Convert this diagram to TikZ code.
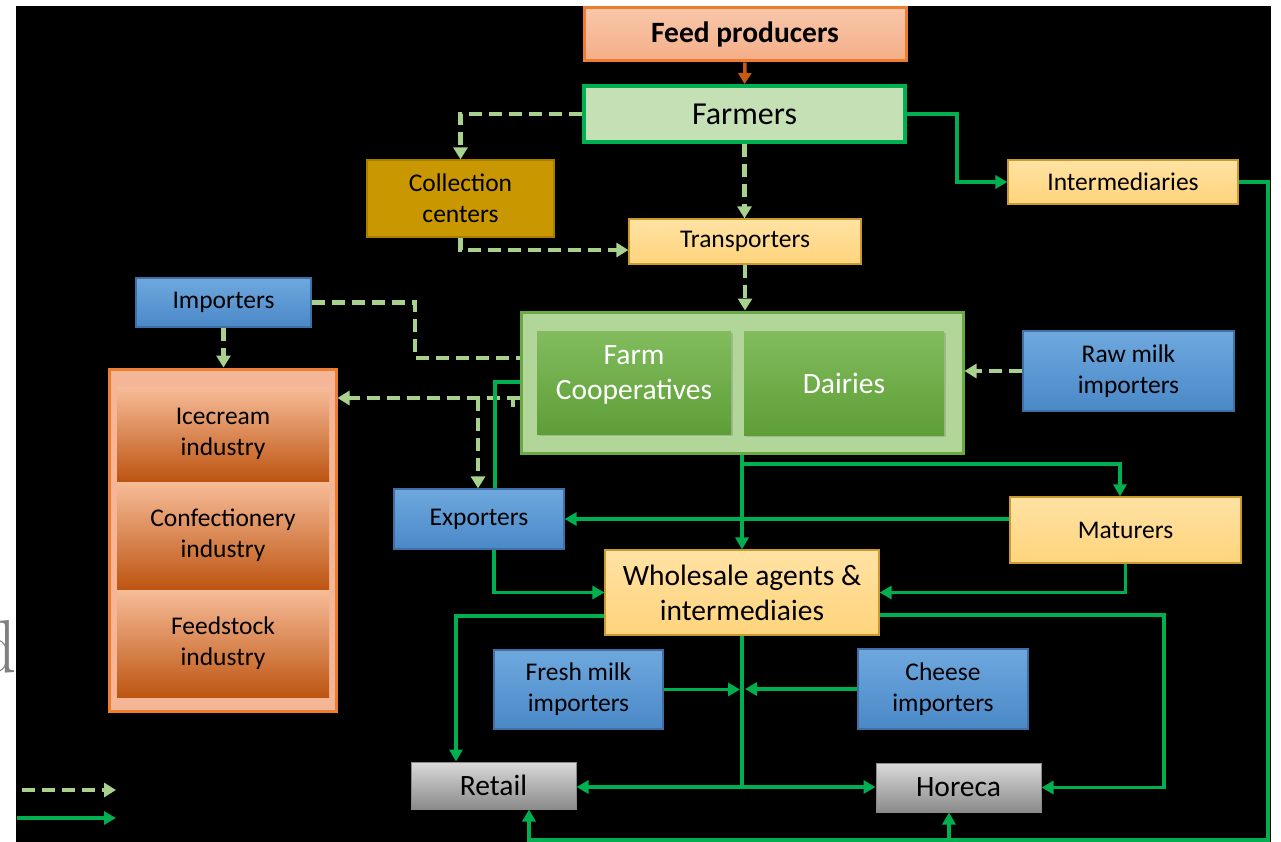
\documentclass[tikz,border=0pt]{standalone}
\usepackage{fontspec}
\newfontfamily\carl{Carlito}
\usetikzlibrary{arrows.meta,shadows}

% text sizes (1pt = one unit of the drawing grid)
\newcommand\fstd{\carl\fontsize{25.5}{31}\selectfont}
\newcommand\fbig{\carl\fontsize{29.5}{35}\selectfont}
\newcommand\ffarm{\carl\fontsize{32}{38}\selectfont}

\definecolor{dashgreen}{HTML}{A9D18E}
\definecolor{linegreen}{HTML}{00B050}
\definecolor{feedarrow}{HTML}{C55A11}
\definecolor{blueT}{HTML}{6EA8DE}
\definecolor{blueB}{HTML}{4A88C7}
\definecolor{blueD}{HTML}{3E70A6}
\definecolor{tanT}{HTML}{FFE2A3}
\definecolor{tanB}{HTML}{FFD47C}
\definecolor{tanD}{HTML}{C99A30}
\definecolor{gold}{HTML}{C99700}
\definecolor{goldD}{HTML}{A87E00}
\definecolor{farmfill}{HTML}{C5E0B4}
\definecolor{orangeD}{HTML}{ED7D31}
\definecolor{salmonT}{HTML}{F8C7AA}
\definecolor{salmonB}{HTML}{F4AE88}
\definecolor{grpfill}{HTML}{B2D69A}
\definecolor{grpdraw}{HTML}{6AAA45}
\definecolor{procT}{HTML}{82BC5E}
\definecolor{procB}{HTML}{5E9E36}
\definecolor{indfill}{HTML}{F5B597}
\definecolor{subT}{HTML}{F7BC98}
\definecolor{subM}{HTML}{E9792F}
\definecolor{subB}{HTML}{BD5512}
\definecolor{greyT}{HTML}{DADADA}
\definecolor{greyB}{HTML}{8A8A8A}

\begin{document}
\begin{tikzpicture}[x=1pt,y=-1pt,
  box/.style={rectangle, inner sep=0pt, align=center, font=\fstd, text=black},
  bluebox/.style={box, top color=blueT, bottom color=blueB, draw=blueD, line width=1.2pt},
  tanbox/.style={box, top color=tanT, bottom color=tanB, draw=tanD, line width=1.2pt},
  goldbox/.style={box, fill=gold, draw=goldD, line width=1.2pt},
  farmbox/.style={box, fill=farmfill, draw=linegreen, line width=4pt},
  feedbox/.style={box, top color=salmonT, bottom color=salmonB, draw=orangeD, line width=3pt},
  groupbox/.style={box, fill=grpfill, draw=grpdraw, line width=3pt},
  procbox/.style={box, top color=procT, bottom color=procB, text=white, font=\fbig,
    drop shadow={shadow xshift=2pt, shadow yshift=-2pt, opacity=0.35}},
  indbox/.style={box, fill=indfill, draw=orangeD, line width=3pt},
  subbox/.style={box, top color=subT, middle color=subM, bottom color=subB},
  greybox/.style={box, top color=greyT, bottom color=greyB, draw=greyB, line width=1pt, font=\fbig},
  sol/.style={draw=linegreen, line width=3.5pt, line join=miter},
  solarr/.style={sol, -{Triangle[length=12pt,width=13pt]}},
  dsh/.style={draw=dashgreen, line width=4.5pt, dash pattern=on 13pt off 7pt, line join=miter},
  dsharr/.style={dsh, -{Triangle[length=12pt,width=14pt]}},
  feedarr/.style={draw=feedarrow, line width=3.5pt, -{Triangle[length=11pt,width=13pt]}}
]
\useasboundingbox (0,0) rectangle (1281,842);
\fill[black] (16,6) rectangle (1271,842);
\node[font=\fontsize{75}{75}\selectfont, text=black!50, anchor=base east, inner sep=0pt] (frag) at (17,672) {d};

% ---- nodes ----
\node[feedbox, minimum width=322pt, minimum height=53pt, font=\fbig\bfseries] (feed) at (745,34.5) {Feed producers};
\node[farmbox, minimum width=321pt, minimum height=56pt, font=\ffarm] (farmers) at (744.5,114) {Farmers};
\node[goldbox, minimum width=187pt, minimum height=77pt] (coll) at (460.5,198.5) {Collection\\centers};
\node[tanbox, minimum width=230pt, minimum height=44pt] (inter) at (1123,182) {Intermediaries};
\node[tanbox, minimum width=232pt, minimum height=45pt] (trans) at (745,241.5) {Transporters};

\node[groupbox, minimum width=442pt, minimum height=141pt] (group) at (742,382.5) {};
\node[procbox, minimum width=194pt, minimum height=103pt, text depth=20pt] (coop) at (634,382.5) {Farm\\Cooperatives};
\node[procbox, minimum width=200pt, minimum height=104pt] (dairies) at (844,383) {Dairies};
\node[bluebox, minimum width=211pt, minimum height=80pt] (rawmilk) at (1128.5,371) {Raw milk\\importers};

\node[bluebox, minimum width=175pt, minimum height=49pt] (importers) at (223.5,302.5) {Importers};
\node[indbox, minimum width=227pt, minimum height=342pt] (industry) at (222.5,540) {};
\node[subbox, minimum width=212pt, minimum height=94pt] (ice) at (223,434) {Icecream\\industry};
\node[subbox, minimum width=212pt, minimum height=107pt] (conf) at (223,535.5) {Confectionery\\industry};
\node[subbox, minimum width=212pt, minimum height=107pt] (fstock) at (223,643.5) {Feedstock\\industry};

\node[bluebox, minimum width=170pt, minimum height=60pt] (exporters) at (479,519) {Exporters};
\node[tanbox, minimum width=231pt, minimum height=66pt] (maturers) at (1125.5,530) {Maturers};
\node[tanbox, minimum width=274pt, minimum height=85pt, font=\fbig] (wholesale) at (742,592.5) {Wholesale agents \&\\intermediaies};
\node[bluebox, minimum width=169pt, minimum height=79pt] (fresh) at (578.5,689.5) {Fresh milk\\importers};
\node[bluebox, minimum width=170pt, minimum height=80pt] (cheese) at (943,689) {Cheese\\importers};
\node[greybox, minimum width=165pt, minimum height=47pt] (retail) at (493.5,785.5) {Retail};
\node[greybox, minimum width=165pt, minimum height=49pt] (horeca) at (958.5,787.5) {Horeca};

% ---- milk collection (dashed) ----
\draw[feedarr] (feed.south) -- (farmers.north);
\draw[dsharr] (farmers.west) -| (coll.north);
\draw[dsharr] (farmers.south) -- (farmers.south |- trans.north);
\draw[dsharr] (coll.south) |- (trans.west |- 0,250);
\draw[dsharr] (trans.south) -- (trans.south |- group.north);
\draw[dsharr] (rawmilk.west) -- (rawmilk.west -| group.east);
\draw[dsh] (importers.east) -| (415,330) |- (group.west |- 0,358);
\draw[dsharr] (importers.south) -- (importers.south |- industry.north);
\draw[dsharr] (group.west |- 0,398) -- (industry.east |- 0,398);
\draw[dsharr] (478,398) -- (478,0 |- exporters.north);
\draw[dsh] (513,398) -- (513,407);

% ---- product flows (solid) ----
\draw[solarr] (farmers.east) -| (957,150) |- (inter.west);
\coordinate (loopNE) at (1268,182);
\coordinate (loopSE) at (1268,840);
\coordinate (loopSW) at (529,840);
\coordinate (loopH) at (949,840);
\draw[solarr] (inter.east) -- (loopNE) -- (loopSE) -- (loopSW) -- (loopSW |- retail.south);
\draw[solarr] (loopH) -- (loopH |- horeca.south);

\draw[solarr] (group.south) -- (wholesale.north);
\coordinate (matbranch) at (742,464);
\draw[solarr] (matbranch) -| (1120,0 |- maturers.north);
\draw[solarr] (maturers.west |- 0,519) -- (exporters.east);
\draw[solarr] (maturers.south) |- (wholesale.east);
\draw[solarr] (494,0 |- exporters.south) |- (wholesale.west);
\draw[sol] (group.west |- 0,382) -| (495,0 |- exporters.north);

\coordinate (hub) at (742,787);
\draw[sol] (wholesale.south) -- (hub);
\draw[solarr] (hub) -- (retail.east |- hub);
\draw[solarr] (hub) -- (horeca.west |- hub);
\draw[solarr] (fresh.east) -- (740,0 |- fresh.east);
\draw[solarr] (cheese.west) -- (745,0 |- cheese.west);
\draw[solarr] (wholesale.west |- 0,616) -| (456,0 |- retail.north);
\draw[solarr] (wholesale.east |- 0,615) -| (1164,700) |- (horeca.east);

% ---- legend ----
\coordinate (legDa) at (22,790);
\coordinate (legDb) at (116,790);
\coordinate (legSa) at (17,818);
\coordinate (legSb) at (116,818);
\draw[dsharr] (legDa) -- (legDb);
\draw[solarr] (legSa) -- (legSb);
\end{tikzpicture}
\end{document}
